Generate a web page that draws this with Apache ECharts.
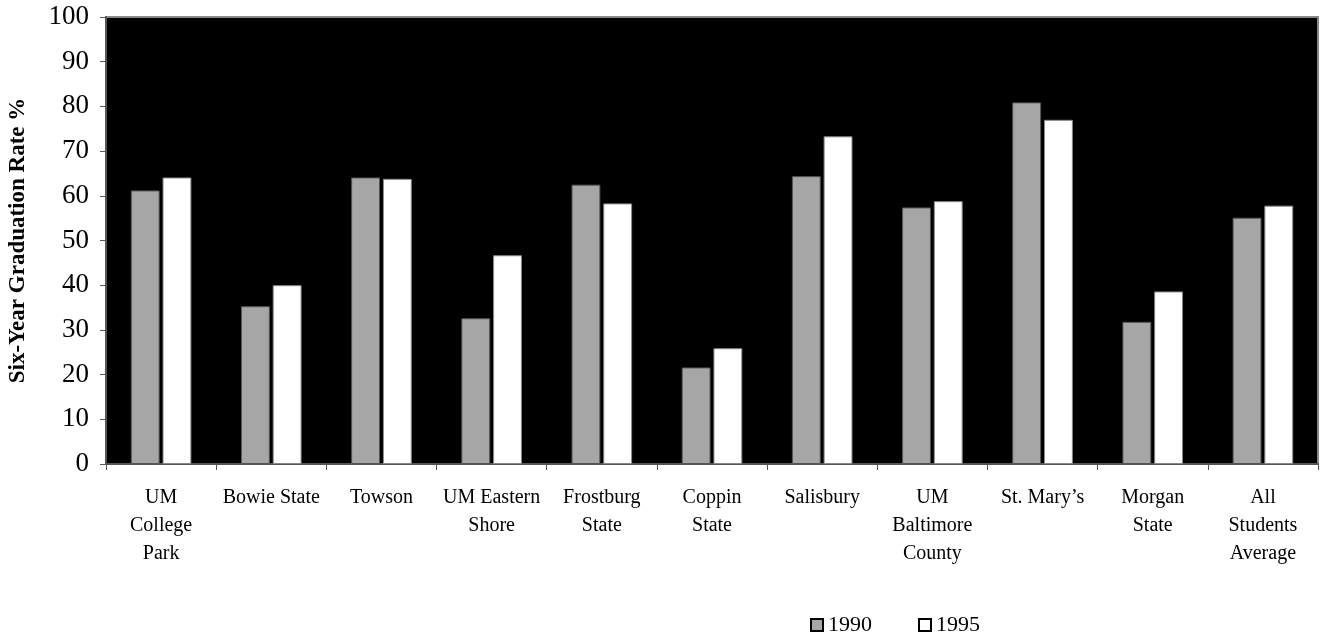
<!DOCTYPE html>
<html>
<head>
<meta charset="utf-8">
<script src="https://cdn.jsdelivr.net/npm/echarts@6/dist/echarts.min.js"></script>
<style>
html,body{margin:0;padding:0;background:#fff;}
#chart{width:1320px;height:635px;}
</style>
</head>
<body>
<div id="chart"></div>
<script>
const categories = ['UM\nCollege\nPark', 'Bowie State', 'Towson', 'UM Eastern\nShore', 'Frostburg\nState', 'Coppin\nState', 'Salisbury', 'UM\nBaltimore\nCounty', 'St. Mary\u2019s', 'Morgan\nState', 'All\nStudents\nAverage'];
const rate1990 = [61.2, 35.3, 64.1, 32.6, 62.5, 21.6, 64.4, 57.4, 80.9, 31.8, 55.1];
const rate1995 = [64.1, 40.0, 63.8, 46.7, 58.3, 25.9, 73.3, 58.8, 77.0, 38.6, 57.8];
const yTicks = [0, 10, 20, 30, 40, 50, 60, 70, 80, 90, 100];

const serif = 'Liberation Serif, Times New Roman, serif';
const chart = echarts.init(document.getElementById('chart'), null, {renderer: 'canvas'});
chart.setOption({
  animation: false,
  backgroundColor: '#fff',
  grid: {
    left: 106, right: 2, top: 17, bottom: 171,
    outerBoundsMode: 'none', containLabel: false,
    show: true, backgroundColor: '#000', borderColor: '#888', borderWidth: 2
  },
  legend: {
    left: 805, top: 609,
    itemWidth: 12, itemHeight: 12, itemGap: 46,
    icon: 'rect',
    itemStyle: {borderColor: '#000', borderWidth: 2},
    textStyle: {fontFamily: serif, fontSize: 22, color: '#000'},
    data: ['1990', '1995']
  },
  xAxis: {
    type: 'category',
    data: categories,
    boundaryGap: true,
    axisLine: {show: true, lineStyle: {color: '#555', width: 2}},
    axisTick: {show: true, inside: false, length: 6, lineStyle: {color: '#555', width: 1}},
    axisLabel: {interval: 0, margin: 20, fontFamily: serif, fontSize: 20, lineHeight: 28, color: '#000'},
    splitLine: {show: false}
  },
  yAxis: {
    type: 'value',
    min: yTicks[0], max: yTicks[yTicks.length - 1], interval: 10,
    name: 'Six-Year Graduation Rate %',
    nameLocation: 'middle', nameGap: 76,
    nameTextStyle: {fontFamily: serif, fontSize: 23, fontWeight: 'bold', color: '#000'},
    axisLine: {show: true, lineStyle: {color: '#555', width: 2}},
    axisTick: {show: true, inside: false, length: 6, lineStyle: {color: '#555', width: 1}},
    axisLabel: {margin: 17, fontFamily: serif, fontSize: 27, color: '#000'},
    splitLine: {show: false}
  },
  series: [
    {
      name: '1990', type: 'bar', data: rate1990,
      barCategoryGap: '45%', barGap: '10%',
      itemStyle: {color: '#a6a6a6', borderColor: '#555', borderWidth: 1}
    },
    {
      name: '1995', type: 'bar', data: rate1995,
      itemStyle: {color: '#ffffff', borderColor: '#888', borderWidth: 1}
    }
  ]
});
</script>
</body>
</html>
